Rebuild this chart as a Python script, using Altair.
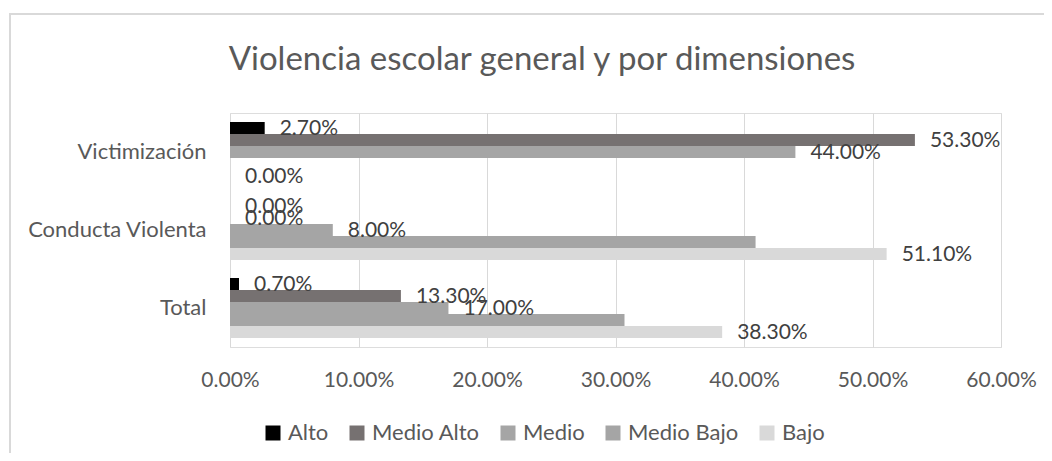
import altair as alt
import pandas as pd

title_text = "Violencia escolar general y por dimensiones"
categories = ["Victimización", "Conducta Violenta", "Total"]
series = ["Alto", "Medio Alto", "Medio", "Medio Bajo", "Bajo"]
colors = ["#000000", "#767171", "#a5a5a5", "#a5a5a5", "#d9d9d9"]
alto = [2.7, 0.0, 0.7]
medio_alto = [53.3, 0.0, 13.3]
medio = [44.0, 8.0, 17.0]
medio_bajo = [0.0, 40.9, 30.7]
bajo = [0.0, 51.1, 38.3]
labeled = ["Alto", "Medio Alto", "Medio", "Bajo"]
ticks = [0.0, 0.1, 0.2, 0.3, 0.4, 0.5, 0.6]

values = {"Alto": alto, "Medio Alto": medio_alto, "Medio": medio,
          "Medio Bajo": medio_bajo, "Bajo": bajo}
rows = []
for s in series:
    for c, v in zip(categories, values[s]):
        rows.append({"category": c, "series": s, "value": v / 100.0,
                     "labeled": s in labeled})
df = pd.DataFrame(rows)

FONT = "Lato"

y_enc = alt.Y("category:N", sort=categories,
              scale=alt.Scale(paddingInner=0.23, paddingOuter=0.115),
              axis=alt.Axis(title=None, ticks=False, domain=False,
                            labelFont=FONT, labelFontSize=22,
                            labelColor="#595959", labelPadding=24))
yoff = alt.YOffset("series:N", sort=series,
                   scale=alt.Scale(domain=series, paddingInner=0, paddingOuter=0))
x_enc = alt.X("value:Q", scale=alt.Scale(domain=[0, 0.6], nice=False),
              axis=alt.Axis(title=None, format=".2%", values=ticks,
                            grid=True, gridColor="#d9d9d9", gridWidth=1,
                            ticks=False, domain=False, labelFlush=False,
                            labelFont=FONT, labelFontSize=21,
                            labelColor="#595959", labelPadding=22))

bars = alt.Chart(df).mark_bar().encode(
    y=y_enc, yOffset=yoff, x=x_enc,
    color=alt.Color("series:N", sort=series,
                    scale=alt.Scale(domain=series, range=colors),
                    legend=alt.Legend(title=None, orient="none", legendX=32,
                                      legendY=309, direction="horizontal",
                                      columns=5, symbolType="square",
                                      symbolSize=225, symbolStrokeWidth=0,
                                      labelFont=FONT, labelFontSize=22,
                                      labelColor="#595959", columnPadding=17,
                                      labelOffset=4)),
)

labels = alt.Chart(df).transform_filter(alt.datum.labeled).mark_text(
    align="left", baseline="middle", dx=15, dy=1, font=FONT, fontSize=21,
    color="#404040"
).encode(
    y=y_enc, yOffset=yoff, x=x_enc,
    text=alt.Text("value:Q", format=".2%"),
)

frame = pd.DataFrame({"title": [title_text]})
border = alt.Chart(frame).mark_rect(
    fillOpacity=0, stroke="#d9d9d9", strokeWidth=2
).encode(x=alt.value(-220), x2=alt.value(840), y=alt.value(-99), y2=alt.value(420))

title = alt.Chart(frame).mark_text(
    align="center", baseline="alphabetic", font=FONT, fontSize=33,
    color="#595959"
).encode(x=alt.value(312), y=alt.value(-43), text="title:N")

chart = alt.layer(border, title, bars, labels).properties(
    width=771, height=234,
    padding={"left": 222, "top": 105, "right": 43, "bottom": 106},
    autosize=alt.AutoSizeParams(type="none"),
).configure_view(strokeWidth=0).configure(background="white")

chart.save("out.html", embed_options={"renderer": "svg", "actions": False})
